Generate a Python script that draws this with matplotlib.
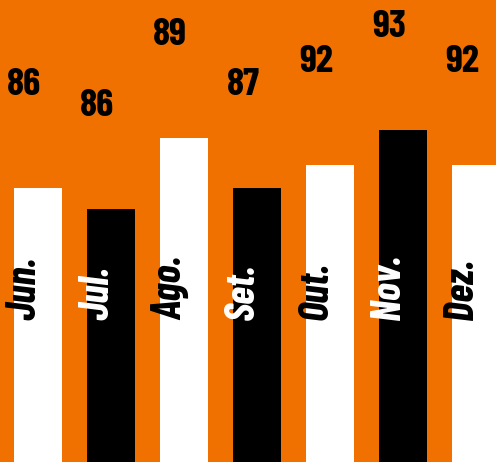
import matplotlib.pyplot as plt

meses = ["Jun.", "Jul.", "Ago.", "Set.", "Out.", "Nov.", "Dez."]
rotulos = ["86", "86", "89", "87", "92", "93", "92"]
alturas = [59.3, 54.8, 70.1, 59.3, 64.3, 71.9, 64.3]
cores = ["white", "black", "white", "black", "white", "black", "white"]
cores_texto = ["black", "white", "black", "white", "black", "white", "black"]

laranja = "#F07100"
fonte = "Barlow Condensed"

fig = plt.figure(figsize=(4.96, 4.62), dpi=100)
fig.patch.set_facecolor(laranja)
ax = fig.add_axes([0, 0, 1, 1])
ax.set_facecolor(laranja)

x = list(range(len(meses)))
ax.bar(x, alturas, width=0.66, color=cores, linewidth=0)

for i in x:
    ax.text(i - 0.19, alturas[i] + 22.3, rotulos[i], ha="center", va="center",
            fontsize=28, fontweight="bold", family=fonte, color="black")
    ax.text(i - 0.19, 30.7, meses[i], ha="center", va="bottom", rotation=90,
            fontsize=30, fontweight="bold", fontstyle="italic", family=fonte,
            color=cores_texto[i])

ax.set_xlim(-0.52, 6.27)
ax.set_ylim(0, 100)
ax.axis("off")

fig.savefig("out.png", dpi=100, facecolor=laranja)
